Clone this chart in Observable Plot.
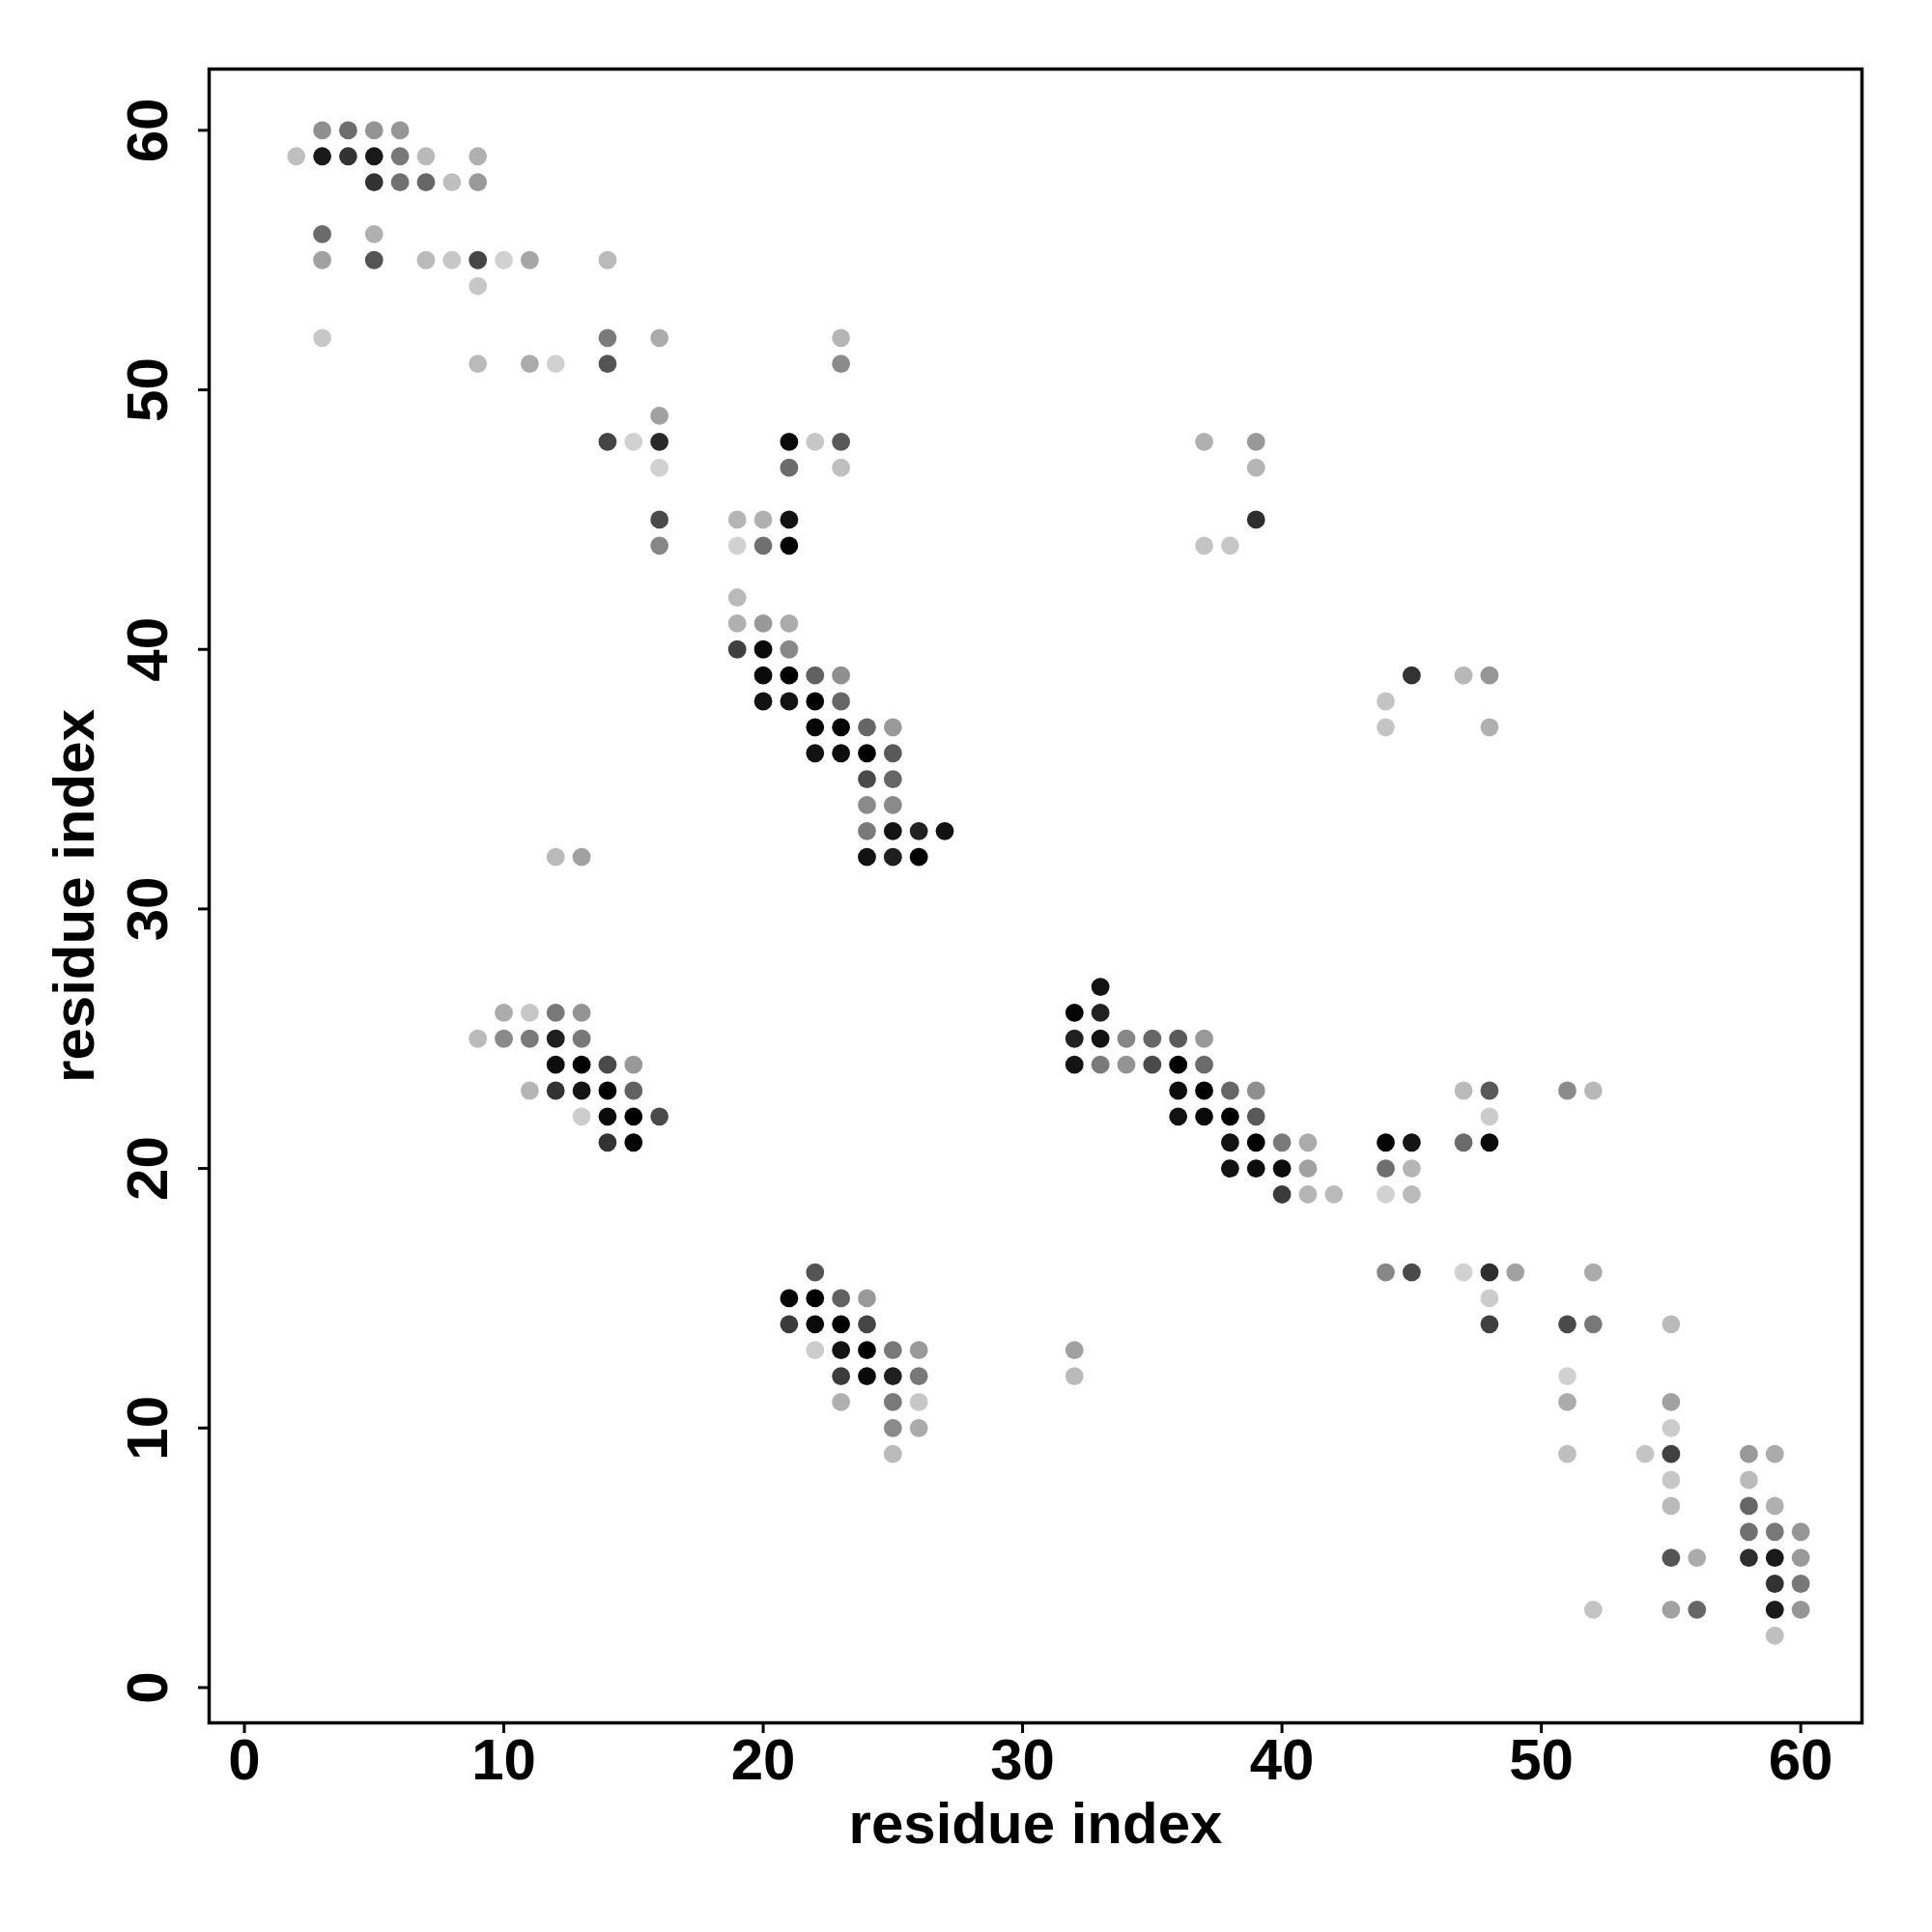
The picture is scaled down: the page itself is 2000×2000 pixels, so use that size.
<!DOCTYPE html>
<html>
<head>
<meta charset="utf-8">
<script src="https://cdn.jsdelivr.net/npm/d3@7"></script>
<script src="https://cdn.jsdelivr.net/npm/@observablehq/plot@0.6"></script>
<style>
  html, body { margin: 0; padding: 0; background: #fff; }
  #chart svg { display: block; }
</style>
</head>
<body>
<div id="chart"></div>
<script>
// Contact map: residue i (x), residue j (y), contact strength (0..1, drawn as grey level)
const resI = [
  3,4,5,6,
  2,3,4,5,6,7,9,
  5,6,7,8,9,
  3,5,
  3,5,7,8,9,10,11,14,
  9,
  3,14,16,23,
  9,11,12,14,23,
  16,
  14,15,16,21,22,23,37,39,
  16,21,23,39,
  16,19,20,21,39,
  16,19,20,21,37,38,
  19,
  19,20,21,
  19,20,21,
  20,21,22,23,45,47,48,
  20,21,22,23,44,
  22,23,24,25,44,48,
  22,23,24,25,
  24,25,
  24,25,
  24,25,26,27,
  12,13,24,25,26,
  33,
  10,11,12,13,32,33,
  9,10,11,12,13,32,33,34,35,36,37,
  12,13,14,15,32,33,34,35,36,37,
  11,12,13,14,15,36,37,38,39,47,48,51,52,
  13,14,15,16,36,37,38,39,48,
  14,15,38,39,40,41,44,45,47,48,
  38,39,40,41,44,45,
  40,41,42,44,45,
  22,44,45,47,48,49,52,
  21,22,23,24,48,
  21,22,23,24,48,51,52,55,
  22,23,24,25,26,32,
  23,24,25,26,32,51,
  23,25,26,51,55,
  25,26,55,
  25,51,54,55,58,59,
  55,58,
  55,58,59,
  58,59,60,
  55,56,58,59,60,
  59,60,
  52,55,56,59,60,
  59
];
const resJ = [
  60,60,60,60,
  59,59,59,59,59,59,59,
  58,58,58,58,58,
  56,56,
  55,55,55,55,55,55,55,55,
  54,
  52,52,52,52,
  51,51,51,51,51,
  49,
  48,48,48,48,48,48,48,48,
  47,47,47,47,
  45,45,45,45,45,
  44,44,44,44,44,44,
  42,
  41,41,41,
  40,40,40,
  39,39,39,39,39,39,39,
  38,38,38,38,38,
  37,37,37,37,37,37,
  36,36,36,36,
  35,35,
  34,34,
  33,33,33,33,
  32,32,32,32,32,
  27,
  26,26,26,26,26,26,
  25,25,25,25,25,25,25,25,25,25,25,
  24,24,24,24,24,24,24,24,24,24,
  23,23,23,23,23,23,23,23,23,23,23,23,23,
  22,22,22,22,22,22,22,22,22,
  21,21,21,21,21,21,21,21,21,21,
  20,20,20,20,20,20,
  19,19,19,19,19,
  16,16,16,16,16,16,16,
  15,15,15,15,15,
  14,14,14,14,14,14,14,14,
  13,13,13,13,13,13,
  12,12,12,12,12,12,
  11,11,11,11,11,
  10,10,10,
  9,9,9,9,9,9,
  8,8,
  7,7,7,
  6,6,6,
  5,5,5,5,5,
  4,4,
  3,3,3,3,3,
  2
];
const strength = [
  .44,.57,.42,.41,
  .25,.90,.80,.90,.53,.27,.31,
  .80,.56,.60,.25,.40,
  .58,.31,
  .37,.67,.27,.22,.73,.18,.35,.27,
  .22,
  .22,.52,.33,.29,
  .27,.33,.18,.67,.46,
  .37,
  .73,.18,.84,.96,.22,.65,.31,.40,
  .18,.58,.25,.29,
  .71,.29,.31,.93,.82,
  .47,.18,.56,.98,.23,.22,
  .27,
  .31,.40,.33,
  .75,.96,.47,
  .96,1.0,.62,.44,.80,.28,.41,
  .93,.93,1.0,.60,.23,
  .98,1.0,.60,.40,.23,.31,
  .93,.95,1.0,.65,
  .71,.60,
  .46,.46,
  .52,.92,.87,.93,
  .27,.37,.93,.88,1.0,
  .93,
  .33,.22,.53,.42,1.0,.87,
  .27,.46,.52,.88,.53,.87,.93,.47,.60,.65,.40,
  .95,1.0,.71,.40,.92,.52,.42,.71,1.0,.58,
  .29,.80,.92,1.0,.62,.95,1.0,.60,.44,.27,.65,.46,.28,
  .20,.96,1.0,.71,.93,.96,1.0,.65,.20,
  .80,.98,.93,1.0,.52,.33,.98,.92,.58,.96,
  .93,.95,.96,.37,.57,.29,
  .77,.29,.27,.18,.27,
  .67,.47,.71,.18,.82,.37,.33,
  .98,1.0,.62,.40,.20,
  .77,.96,1.0,.73,.75,.71,.53,.27,
  .20,.93,1.0,.53,.40,.37,
  .77,.96,.88,.53,.27,.18,
  .31,.52,.22,.33,.37,
  .46,.33,.20,
  .27,.25,.23,.75,.40,.33,
  .22,.27,
  .27,.60,.31,
  .56,.53,.41,
  .67,.33,.82,.90,.40,
  .80,.53,
  .23,.37,.60,.90,.41,
  .25
];
const xTicks = [0, 10, 20, 30, 40, 50, 60];
const yTicks = [0, 10, 20, 30, 40, 50, 60];
const axisTitle = "residue index";

const contacts = resI.map((x, k) => ({x, y: resJ[k], s: strength[k]}));
const dom = [-1.36, 62.36];
const font = "'Liberation Sans', Arial, Helvetica, sans-serif";

const chart = Plot.plot({
  width: 2000,
  height: 2000,
  marginLeft: 216,
  marginRight: 73,
  marginTop: 71,
  marginBottom: 217,
  style: {fontFamily: font, fontWeight: "bold", fontSize: "60px", color: "black", background: "white"},
  x: {domain: dom},
  y: {domain: dom},
  color: {type: "linear", domain: [0, 1], range: ["#ffffff", "#000000"]},
  marks: [
    Plot.dot(contacts, {x: "x", y: "y", r: 9.4, fill: "s", stroke: null}),
    Plot.frame({stroke: "black", strokeWidth: 3.5}),
    Plot.axisX({ticks: xTicks, tickSize: 11, tickPadding: 5, strokeWidth: 3, fontSize: 60, fontWeight: "bold",
      label: axisTitle, labelAnchor: "center", labelArrow: "none", labelOffset: 124}),
    Plot.axisY({ticks: yTicks, tickSize: 11, tickPadding: 33, tickRotate: -90, strokeWidth: 3, fontSize: 60, fontWeight: "bold",
      label: axisTitle, labelAnchor: "center", labelArrow: "none", labelOffset: 162})
  ]
});
document.getElementById("chart").appendChild(chart);
</script>
</body>
</html>
